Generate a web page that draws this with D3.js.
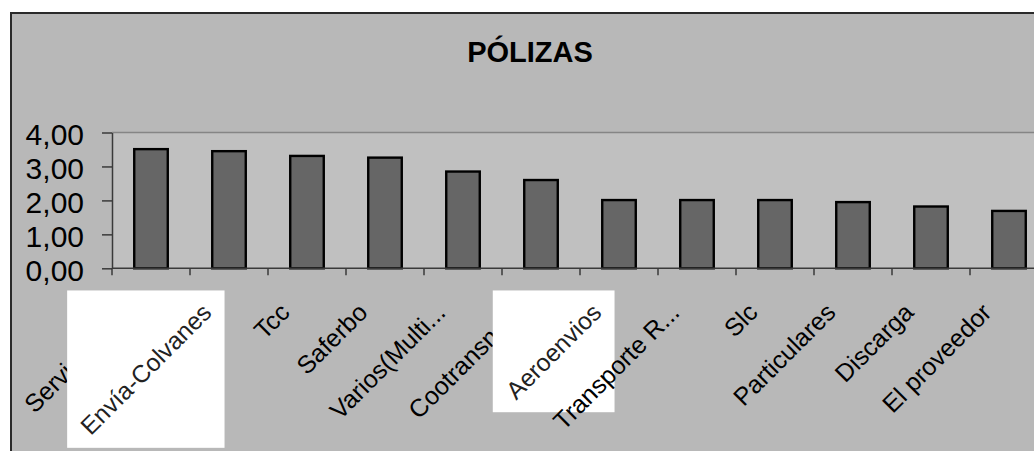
<!DOCTYPE html>
<html>
  <head>
    <meta charset="utf-8">
    <script src="https://d3js.org/d3.v7.min.js"></script>
    <style>
      body { margin: 0; background: #ffffff; }
      text { font-family: "Liberation Sans", Arial, sans-serif; }
    </style>
  </head>
  <body>
    <div id="chart"></div>
    <script>
// data
var categories = ["Servientrega", "Envía-Colvanes", "Tcc", "Saferbo", "Varios(Multi...", "Cootransno...",
                  "Aeroenvios", "Transporte R...", "Slc", "Particulares", "Discarga", "El proveedor"];
var values = [3.51, 3.45, 3.31, 3.26, 2.85, 2.60, 2.01, 2.01, 2.01, 1.95, 1.82, 1.69];
var yTicks = [0, 1, 2, 3, 4];
var highlighted = ["Envía-Colvanes", "Aeroenvios"];
var title = "PÓLIZAS";

(function(){
  var width = 1034, height = 451;
  var left = 112, top = 132.5, bottom = 268.3, step = 78;

  var svg = d3.select("#chart").append("svg")
    .attr("width", width)
    .attr("height", height);

  // chart area + border
  svg.append("rect")
    .attr("x", 11).attr("y", 13)
    .attr("width", 1100).attr("height", 500)
    .attr("fill", "#b8b8b8")
    .attr("stroke", "#2a2a2a")
    .attr("stroke-width", 2);

  svg.append("text")
    .attr("x", 530).attr("y", 62)
    .attr("text-anchor", "middle")
    .attr("font-size", 29)
    .attr("font-weight", "bold")
    .text(title);

  var x = d3.scaleBand()
    .domain(categories)
    .range([left, left + step * categories.length]);

  var y = d3.scaleLinear()
    .domain([0, 4])
    .range([bottom, top]);

  // plot area
  svg.append("rect")
    .attr("x", left).attr("y", top)
    .attr("width", 1000).attr("height", bottom - top)
    .attr("fill", "#c0c0c0");
  svg.append("line")
    .attr("x1", left).attr("x2", width)
    .attr("y1", top).attr("y2", top)
    .attr("stroke", "#858585")
    .attr("stroke-width", 1.5);

  var fmt = d3.formatLocale({decimal: ",", thousands: ".", grouping: [3], currency: ["", ""]}).format(".2f");

  var yAxis = svg.append("g")
    .attr("transform", "translate(" + left + ",0)")
    .call(d3.axisLeft(y).tickValues(yTicks).tickFormat(fmt).tickSize(10).tickSizeOuter(0).tickPadding(18));
  yAxis.select(".domain").attr("stroke", "#3a3a3a").attr("stroke-width", 1.5);
  yAxis.selectAll(".tick line").attr("stroke", "#3a3a3a").attr("stroke-width", 1.5);
  yAxis.selectAll(".tick text")
    .attr("font-size", 30)
    .attr("font-family", "Liberation Sans, Arial, sans-serif")
    .attr("fill", "#000")
    .attr("dy", "0.4em");

  // bars
  var barW = x.bandwidth() * 0.43;
  svg.selectAll(".bar")
    .data(values)
    .enter().append("rect")
    .attr("class", "bar")
    .attr("x", function(d, i){ return x(categories[i]) + (x.bandwidth() - barW) / 2; })
    .attr("y", function(d){ return y(d); })
    .attr("width", barW)
    .attr("height", function(d){ return y(0) - y(d); })
    .attr("fill", "#666666")
    .attr("stroke", "#000")
    .attr("stroke-width", 2.4);

  // x axis line and ticks at band edges
  svg.append("line")
    .attr("x1", left).attr("x2", width)
    .attr("y1", bottom).attr("y2", bottom)
    .attr("stroke", "#3a3a3a")
    .attr("stroke-width", 1.5);
  var edges = categories.map(function(c){ return x(c); }).concat([x.range()[1]]);
  svg.selectAll(".xtick")
    .data(edges)
    .enter().append("line")
    .attr("class", "xtick")
    .attr("x1", function(d){ return d; })
    .attr("x2", function(d){ return d; })
    .attr("y1", bottom).attr("y2", bottom + 7)
    .attr("stroke", "#3a3a3a")
    .attr("stroke-width", 1.5);

  // category labels
  var labels = svg.append("g");
  var svgBox = svg.node().getBoundingClientRect();
  categories.forEach(function(c){
    var cx = x(c) + x.bandwidth() / 2;
    var isHi = highlighted.indexOf(c) >= 0;
    var box = isHi ? labels.append("rect").attr("fill", "#ffffff") : null;
    var t = labels.append("text")
      .attr("transform", "translate(" + (cx - 16) + ",314) rotate(-45)")
      .attr("text-anchor", "end")
      .attr("font-size", isHi ? 24.5 : 25)
      .attr("fill", isHi ? "#222" : "#000")
      .text(c);
    if (isHi) {
      var r = t.node().getBoundingClientRect();
      var pad = 8;
      box.attr("x", r.left - svgBox.left - pad)
        .attr("y", r.top - svgBox.top - pad)
        .attr("width", r.width + pad * 2)
        .attr("height", r.height + pad * 2);
    }
  });
})();
    </script>
  </body>
</html>
